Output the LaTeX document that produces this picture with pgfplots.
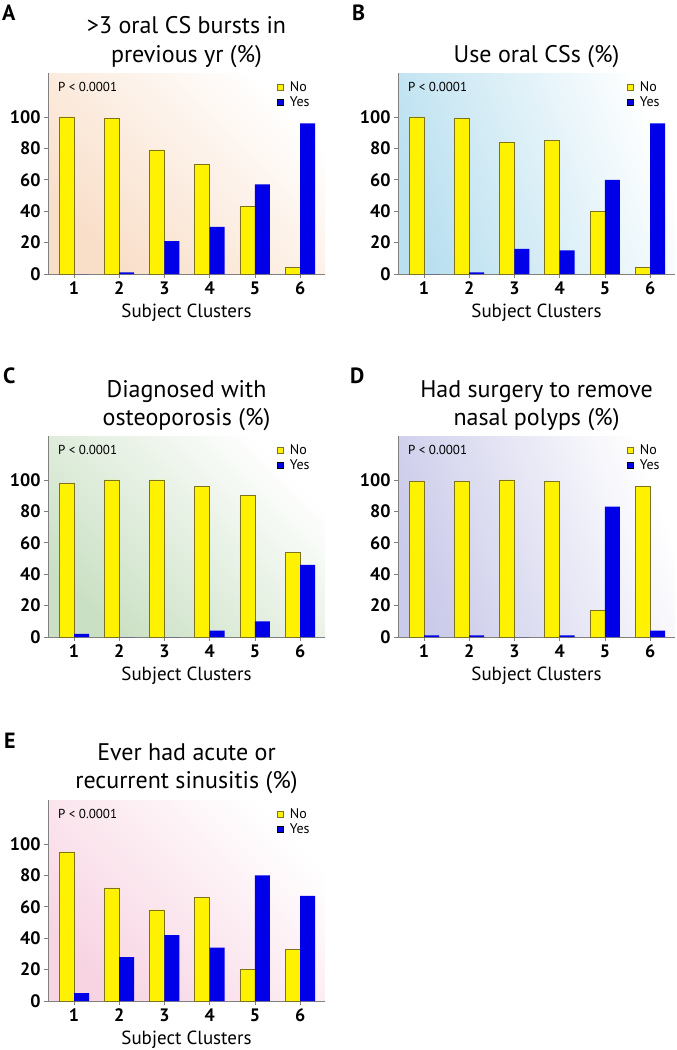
\documentclass[border=0pt]{standalone}
\usepackage{pgfplots}
\pgfplotsset{compat=1.18}
\usepackage{pgfplotstable}
\usepackage{fontspec}
\setmainfont{PT Sans}
\definecolor{barblue}{RGB}{0,0,232}
\definecolor{barborder}{RGB}{125,115,30}
\definecolor{axgray}{RGB}{128,128,128}
\definecolor{bgA}{RGB}{249,222,200}
\definecolor{bgB}{RGB}{186,224,240}
\definecolor{bgC}{RGB}{202,224,196}
\definecolor{bgD}{RGB}{202,202,234}
\definecolor{bgE}{RGB}{248,212,226}

\pgfplotstableread{
c no yes
1 100 0
2 99 1
3 79 21
4 70 30
5 43 57
6 4 96
}\dataA
\pgfplotstableread{
c no yes
1 100 0
2 99 1
3 84 16
4 85 15
5 40 60
6 4 96
}\dataB
\pgfplotstableread{
c no yes
1 98 2
2 100 0
3 100 0
4 96 4
5 90 10
6 54 46
}\dataC
\pgfplotstableread{
c no yes
1 99 1
2 99 1
3 100 0
4 99 1
5 17 83
6 96 4
}\dataD
\pgfplotstableread{
c no yes
1 95 5
2 72 28
3 58 42
4 66 34
5 20 80
6 33 67
}\dataE

\pgfplotsset{common/.style={
  scale only axis, width=277pt, height=201pt,
  xmin=0.425, xmax=6.55, ymin=0, ymax=128,
  axis x line*=bottom, axis y line*=left,
  axis line style={axgray, line width=0.9pt},
  ytick={0,20,...,100}, xtick={1,...,6},
  tick align=outside, major tick length=4pt,
  tick style={axgray, line width=0.8pt},
  /pgf/number format/assume math mode=true,
  tick label style={font=\bfseries\fontsize{18}{18}\selectfont},
  xlabel={Subject Clusters},
  xlabel style={font=\fontsize{19}{19}\selectfont, at={(rel axis cs:0.5,0)}, anchor=base, yshift=-43pt},
  ybar=0pt, bar width=15pt,
  legend style={draw=none, fill=none, at={(rel axis cs:0.822,0.962)}, anchor=north west,
    font=\fontsize{14}{14}\selectfont, row sep=1pt, inner sep=0pt,
    nodes={inner xsep=1pt, inner ysep=1pt}},
  legend cell align=left,
  legend image code/.code={\draw[##1] (1pt,-3pt) rectangle (7pt,3pt); \path[draw=none,fill=none] (0pt,0pt) (13pt,0pt);},
}}

\newcommand{\panel}[5]{%
\begin{axis}[common, at={(#1pt,-#2pt)}, anchor=north west,
  axis background/.style={shade, top color=white, bottom color=#3, shading angle=#4}]
\addplot[fill=yellow, draw=barborder, line width=0.6pt] table[x=c,y=no]{#5};
\addplot[fill=barblue, draw=none] table[x=c,y=yes]{#5};
\legend{No,Yes}
\node[anchor=west, font=\fontsize{13}{13}\selectfont, inner sep=0pt] at (rel axis cs:0.036,0.93) {P < 0.0001};
\end{axis}}

\begin{document}
\begin{tikzpicture}[x=1pt,y=1pt]
\useasboundingbox (0,0) rectangle (677,-1050);
\panel{48}{73}{bgA}{-45}{\dataA}
\panel{398}{73}{bgB}{-70}{\dataB}
\panel{48}{436}{bgC}{-45}{\dataC}
\panel{398}{436}{bgD}{-70}{\dataD}
\panel{48}{800}{bgE}{-45}{\dataE}

\begin{scope}[every node/.style={font=\fontsize{24}{24}\selectfont, anchor=base, inner sep=0pt}]
\node at (186.5,-33) {>3 oral CS bursts in};
\node at (186.5,-62) {previous yr (\%)};
\node at (536.5,-62) {Use oral CSs (\%)};
\node at (186.5,-397) {Diagnosed with};
\node at (186.5,-425) {osteoporosis (\%)};
\node at (536.5,-397) {Had surgery to remove};
\node at (536.5,-425) {nasal polyps (\%)};
\node at (186.5,-760) {Ever had acute or};
\node at (186.5,-788) {recurrent sinusitis (\%)};
\end{scope}
\begin{scope}[every node/.style={font=\bfseries\fontsize{22}{22}\selectfont, anchor=base west, inner sep=0pt}]
\node at (2,-20) {A};
\node at (352,-20) {B};
\node at (3,-383) {C};
\node at (350,-383) {D};
\node at (4,-748) {E};
\end{scope}
\end{tikzpicture}
\end{document}
